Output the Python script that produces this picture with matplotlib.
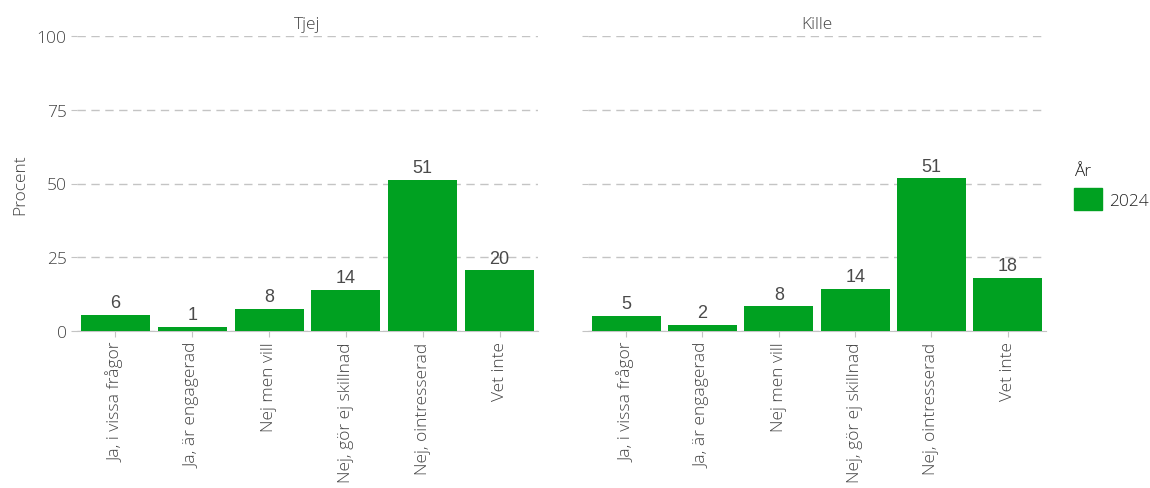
import matplotlib
matplotlib.use("Agg")
import matplotlib.pyplot as plt
from matplotlib.patches import Patch

plt.rcParams['font.family'] = ['Open Sans', 'DejaVu Sans']

categories = ["Ja, i vissa frågor", "Ja, är engagerad", "Nej men vill",
              "Nej, gör ej skillnad", "Nej, ointresserad", "Vet inte"]
panels = ["Tjej", "Kille"]
tjej = [5.5, 1.4, 7.6, 13.9, 51.2, 20.6]
kille = [5.2, 2.1, 8.4, 14.3, 51.7, 18.1]
tjej_labels = [6, 1, 8, 14, 51, 20]
kille_labels = [5, 2, 8, 14, 51, 18]
yticks = [0, 25, 50, 75, 100]

green = "#00a121"
grey_txt = "#444444"
grid_c = "#c4c4c4"
fs = 12.5

fig = plt.figure(figsize=(11.5, 4.89), dpi=100)
ax1 = fig.add_axes([77/1150, 1-332/489, 461/1150, 295/489])
ax2 = fig.add_axes([588/1150, 1-332/489, 458/1150, 295/489])

for ax, name, vals, labs in [(ax1, panels[0], tjej, tjej_labels),
                             (ax2, panels[1], kille, kille_labels)]:
    x = list(range(len(categories)))
    ax.bar(x, vals, width=0.9, color=green, zorder=3)
    for xi, v, l in zip(x, vals, labs):
        ax.text(xi, v + 1.2, str(l), ha="center", va="bottom",
                fontsize=13, color="#4a4a4a", family="Liberation Sans")
    ax.set_xlim(-0.5, 5.5)
    ax.set_ylim(0, 100)
    ax.set_yticks(yticks)
    ax.yaxis.grid(True, color=grid_c, linestyle=(0, (6, 4)), linewidth=1)
    ax.set_axisbelow(True)
    for s in ["top", "right", "left"]:
        ax.spines[s].set_visible(False)
    ax.spines["bottom"].set_color(grid_c)
    ax.set_xticks(x)
    ax.set_xticklabels(categories, rotation=90, fontsize=fs, color=grey_txt,
                       fontweight="light")
    ax.tick_params(axis="both", colors=grid_c, length=4, labelcolor=grey_txt,
                   labelsize=fs)
    ax.set_title(name, fontsize=fs, color=grey_txt, fontweight="light", pad=6)

for t in ax1.get_yticklabels():
    t.set_fontweight("light")
ax2.set_yticklabels([])
ax1.set_ylabel("Procent", fontsize=fs, color=grey_txt, fontweight="light", labelpad=6)

leg = fig.legend(handles=[Patch(color=green, label="2024")], title="År",
                 loc="upper left", bbox_to_anchor=(1074/1150, 1-164/489),
                 frameon=False, fontsize=fs, title_fontsize=fs,
                 handlelength=1.6, handleheight=1.6, handletextpad=0.4,
                 borderpad=0, borderaxespad=0, alignment="left")
for t in leg.get_texts():
    t.set_color("#222222")
    t.set_fontweight("light")
leg.get_title().set_color("#222222")
leg.get_title().set_fontweight("light")

fig.savefig("out.png", dpi=100)
